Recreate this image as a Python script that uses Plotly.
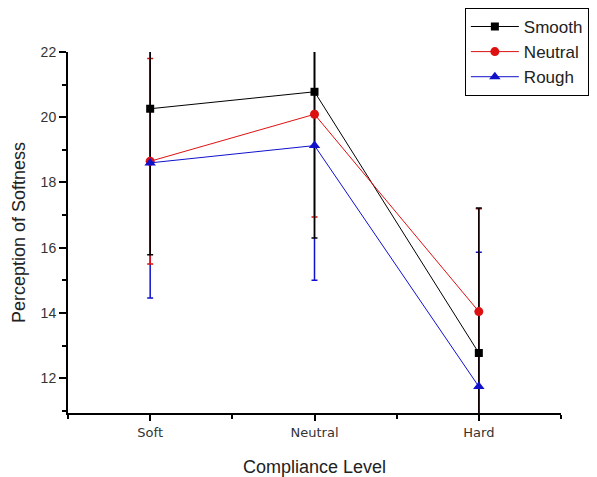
import plotly.graph_objects as go

# Compliance levels and mean softness ratings per surface texture
levels = ["Soft", "Neutral", "Hard"]
x_pos = [1, 2, 3]

smooth_mean = [20.26, 20.78, 12.77]
smooth_err = [4.48, 4.48, 4.45]

neutral_mean = [18.65, 20.09, 14.04]
neutral_err = [3.15, 3.15, 3.15]

rough_mean = [18.60, 19.13, 11.74]
rough_err = [4.14, 4.13, 4.12]

y_ticks = [12, 14, 16, 18, 20, 22]

series = [
    ("Smooth", smooth_mean, smooth_err, "#000000", "square", 8),
    ("Neutral", neutral_mean, neutral_err, "#dd1111", "circle", 9),
    ("Rough", rough_mean, rough_err, "#1111cc", "triangle-up", 10),
]

FONT = "Liberation Sans, Arial, sans-serif"

fig = go.Figure()

# Error bars first (last series at the bottom), so the Smooth bars sit on top
for name, mean, err, color, symbol, size in reversed(series):
    fig.add_trace(go.Scatter(
        x=x_pos, y=mean, mode="markers",
        marker=dict(size=1, color="rgba(0,0,0,0)"),
        error_y=dict(type="data", array=err, visible=True,
                     color=color, thickness=1.5, width=3),
        showlegend=False, hoverinfo="skip",
    ))

# Lines with markers
for name, mean, err, color, symbol, size in series:
    fig.add_trace(go.Scatter(
        x=x_pos, y=mean, mode="lines+markers", name=name,
        line=dict(color=color, width=1),
        marker=dict(symbol=symbol, size=size, color=color,
                    line=dict(width=0)),
    ))

fig.update_layout(
    width=597, height=477,
    margin=dict(l=68, r=36, t=52, b=64, autoexpand=False),
    paper_bgcolor="white", plot_bgcolor="white",
    font=dict(family=FONT, color="#222222"),
    legend=dict(
        x=0.805, y=1.122, xanchor="left", yanchor="top",
        bordercolor="black", borderwidth=1, bgcolor="white",
        font=dict(size=17, color="#222222"),
        itemwidth=48, tracegroupgap=0,
        entrywidth=130, entrywidthmode="pixels",
    ),
    xaxis=dict(
        range=[0.5, 3.5], automargin=False,
        tickmode="array", tickvals=x_pos, ticktext=levels,
        tickfont=dict(size=13, family="DejaVu Sans", color="#333333"),
        ticks="outside", ticklen=6, tickwidth=1.5, tickcolor="black",
        minor=dict(tick0=0.5, dtick=1, ticks="outside", ticklen=4,
                   tickwidth=1.5, tickcolor="black"),
        showline=True, linecolor="black", linewidth=2,
        showgrid=False, zeroline=False,
        title=dict(text="Compliance Level", font=dict(size=18), standoff=24),
    ),
    yaxis=dict(
        range=[10.93, 22], automargin=False,
        tickmode="array", tickvals=y_ticks,
        tickfont=dict(size=14, color="#333333"),
        ticks="outside", ticklen=7, tickwidth=1.5, tickcolor="black",
        minor=dict(tick0=11, dtick=1, ticks="outside", ticklen=4,
                   tickwidth=1.5, tickcolor="black"),
        showline=True, linecolor="black", linewidth=2,
        showgrid=False, zeroline=False,
        title=dict(text="Perception of Softness", font=dict(size=18), standoff=10),
    ),
)

fig.write_html("out.html")
